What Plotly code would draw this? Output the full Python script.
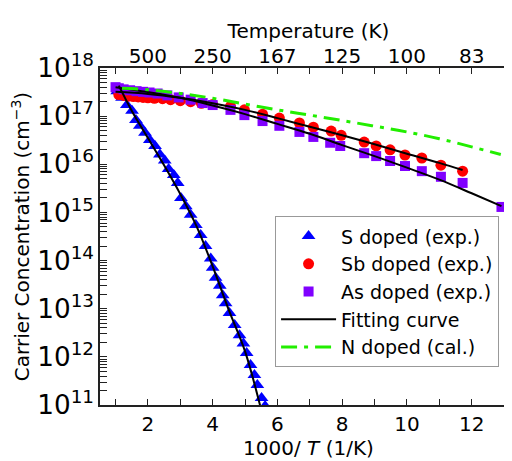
import plotly.graph_objects as go

# S doped (exp.)
s_x = [1.05, 1.2, 1.35, 1.51, 1.63, 1.75, 1.91, 2.06, 2.22, 2.37, 2.52, 2.64, 2.8, 2.92,
       3.02, 3.17, 3.32, 3.48, 3.63, 3.78, 3.94, 4.0, 4.09, 4.22, 4.31, 4.4, 4.52, 4.68,
       4.83, 4.95, 5.05, 5.17, 5.29, 5.38, 5.51, 5.62]
s_y = [3.3e17, 2.4e17, 1.7e17, 1.3e17, 8.3e16, 6.3e16, 4.5e16, 3.2e16, 2.4e16, 1.6e16,
       1.2e16, 8.0e15, 6.0e15, 4.1e15, 2.0e15, 1.35e15, 8.9e14, 5.5e14, 3.4e14, 2.0e14,
       1.1e14, 7.1e13, 4.4e13, 3.0e13, 1.9e13, 1.3e13, 8.1e12, 4.6e12, 2.8e12, 1.9e12,
       1.2e12, 6.8e11, 4.2e11, 2.6e11, 1.4e11, 9.5e10]

# Sb doped (exp.)
sb_x = [1.1, 1.25, 1.4, 1.55, 1.7, 1.85, 2.0, 2.2, 2.45, 2.7, 3.0, 3.32, 3.65, 4.0, 4.55,
        4.98, 5.54, 6.06, 6.68, 7.11, 7.66, 7.97, 8.68, 9.05, 9.48, 9.94, 10.46, 11.05, 11.72]
sb_y = [2.8e17, 2.7e17, 2.6e17, 2.55e17, 2.5e17, 2.45e17, 2.4e17, 2.35e17, 2.3e17, 2.2e17,
        2.1e17, 2.0e17, 1.85e17, 1.75e17, 1.6e17, 1.35e17, 1.1e17, 9.1e16, 7.2e16, 5.9e16,
        4.9e16, 4.0e16, 2.9e16, 2.4e16, 2.0e16, 1.56e16, 1.35e16, 9.6e15, 7.2e15]

# As doped (exp.)
as_x = [1.0, 1.1, 1.25, 1.45, 1.65, 1.85, 2.05, 2.3, 2.6, 2.95, 3.32, 3.69, 4.0, 4.55, 4.98,
        5.54, 6.06, 6.68, 7.11, 7.63, 7.94, 8.68, 9.05, 9.48, 9.94, 10.46, 11.05, 11.72, 12.92]
as_y = [4.0e17, 3.8e17, 3.6e17, 3.45e17, 3.3e17, 3.2e17, 3.1e17, 2.95e17, 2.7e17, 2.45e17,
        2.2e17, 1.87e17, 1.7e17, 1.35e17, 1.05e17, 7.9e16, 6.3e16, 4.7e16, 3.7e16, 2.8e16,
        2.4e16, 1.7e16, 1.48e16, 1.17e16, 9.2e15, 7.2e15, 5.5e15, 4.1e15, 1.3e15]

# Fitting curves
fit_s_x = [1.1, 1.5, 2.0, 2.5, 3.0, 3.5, 4.0, 4.5, 5.0, 5.5]
fit_s_y = [4.3e17, 1.3e17, 3.5e16, 9.5e15, 2.4e15, 5.2e14, 7.6e13, 9.3e12, 1.3e12, 7.9e10]
fit_sb_x = [1.0, 2, 3, 4, 5, 6, 7, 8, 9, 10, 11, 11.72]
fit_sb_y = [3.2e17, 2.9e17, 2.4e17, 1.86e17, 1.35e17, 9.1e16, 6.0e16, 4.0e16, 2.6e16,
            1.66e16, 1.07e16, 7.6e15]
fit_as_x = [1.0, 2, 3, 4, 5, 6, 7, 8, 9, 10, 11, 12, 12.92]
fit_as_y = [4.0e17, 3.16e17, 2.4e17, 1.66e17, 1.1e17, 6.9e16, 4.3e16, 2.5e16, 1.48e16,
            8.5e15, 4.8e15, 2.5e15, 1.35e15]

# N doped (cal.)
n_x = [1.2, 2, 3, 4, 5, 6, 7, 8, 9, 10, 11, 12, 12.9]
n_y = [3.8e17, 3.55e17, 2.95e17, 2.35e17, 1.78e17, 1.35e17, 1.05e17, 8.1e16, 6.2e16,
       4.7e16, 3.4e16, 2.3e16, 1.6e16]

# Top axis tick labels
top_tickvals = [2, 4, 6, 8, 10, 12]
top_ticktext = ["500", "250", "167", "125", "100", "83"]

FONT = "DejaVu Sans, Verdana, sans-serif"

fig = go.Figure()
fig.add_trace(go.Scatter(x=s_x, y=s_y, mode="markers", name="S doped (exp.)",
                         marker=dict(symbol="triangle-up", size=12, color="#0000FF")))
fig.add_trace(go.Scatter(x=sb_x, y=sb_y, mode="markers", name="Sb doped (exp.)",
                         marker=dict(symbol="circle", size=11, color="#FF0000")))
fig.add_trace(go.Scatter(x=as_x, y=as_y, mode="markers", name="As doped (exp.)",
                         marker=dict(symbol="square", size=10, color="#8000FF")))
fig.add_trace(go.Scatter(x=fit_s_x, y=fit_s_y, mode="lines", name="Fitting curve",
                         line=dict(color="black", width=2, shape="spline"), legendgroup="fit"))
fig.add_trace(go.Scatter(x=fit_sb_x, y=fit_sb_y, mode="lines", name="Fitting curve",
                         line=dict(color="black", width=2, shape="spline"), legendgroup="fit",
                         showlegend=False))
fig.add_trace(go.Scatter(x=fit_as_x, y=fit_as_y, mode="lines", name="Fitting curve",
                         line=dict(color="black", width=2, shape="spline"), legendgroup="fit",
                         showlegend=False))
fig.add_trace(go.Scatter(x=n_x, y=n_y, mode="lines", name="N doped (cal.)",
                         line=dict(color="#22EE00", width=3, dash="16px,7px,4px,7px",
                                   shape="spline")))
# invisible trace for top axis
fig.add_trace(go.Scatter(x=[top_tickvals[0]], y=[1e12], xaxis="x2", mode="markers",
                         marker=dict(opacity=0), showlegend=False, hoverinfo="skip"))

axis_common = dict(showline=True, linecolor="#222", linewidth=1.5, mirror="allticks",
                   ticks="inside", tickcolor="#222", showgrid=False, zeroline=False)

fig.update_layout(
    width=512, height=461,
    margin=dict(l=92, r=1, t=60, b=64),
    paper_bgcolor="white", plot_bgcolor="white",
    font=dict(family=FONT, size=20, color="black"),
    xaxis=dict(range=[0.52, 13.4], tick0=0, dtick=2, ticklen=6, tickwidth=1.2,
               minor=dict(dtick=1, ticks="inside", ticklen=6, tickcolor="#222"),
               tickfont=dict(size=20),
               title=dict(text="1000/ <i>T</i> (1/K)", font=dict(size=20), standoff=2),
               **axis_common),
    xaxis2=dict(overlaying="x", side="top", matches="x", range=[0.52, 13.4],
                tickmode="array", tickvals=top_tickvals, ticktext=top_ticktext,
                ticks="", showline=False, showgrid=False, zeroline=False,
                tickfont=dict(size=20),
                title=dict(text="Temperature (K)", font=dict(size=20), standoff=0)),
    yaxis=dict(type="log", range=[11, 18], dtick=1, exponentformat="power",
               showexponent="all", ticklen=7, tickwidth=1.2,
               minor=dict(ticks="inside", ticklen=4, tickcolor="#222", showgrid=False),
               tickfont=dict(size=21),
               title=dict(text="Carrier Concentration (cm<sup>−3</sup>)",
                          font=dict(size=20), standoff=2),
               **axis_common),
    legend=dict(x=0.957, xanchor="right", y=0.112, yanchor="bottom",
                bgcolor="white", bordercolor="#999", borderwidth=1,
                font=dict(size=19), tracegroupgap=0, itemwidth=55),
    showlegend=True,
)

fig.write_html("out.html")
